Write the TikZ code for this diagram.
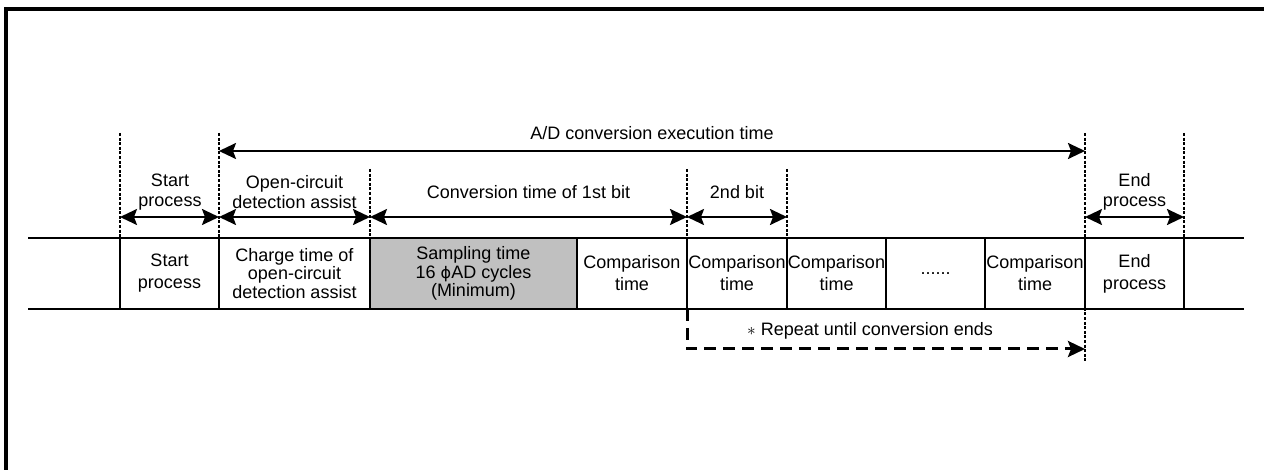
\documentclass[tikz,border=0pt]{standalone}
\usepackage{fontspec}
\setmainfont{Liberation Sans}
\newfontfamily\dejavu{DejaVu Sans}
\usetikzlibrary{arrows.meta}
\definecolor{sampgray}{RGB}{192,192,192}
\begin{document}
\begin{tikzpicture}[x=1pt,y=-1pt,
  box/.style={draw,line width=2.5pt,minimum height=71pt,inner sep=0pt,align=center,font=\fontsize{18}{22}\selectfont},
  box3/.style={box,font=\fontsize{18}{18.5}\selectfont},
  lbl/.style={inner sep=0pt,align=center,font=\fontsize{18}{20}\selectfont},
  dotl/.style={line width=2.5pt,dash pattern=on 3pt off 1.6pt},
  band/.style={line width=2.5pt},
  frame/.style={line width=3.5pt},
  tip/.style={},
  dim/.style={line width=2.2pt,{Stealth[length=17pt,width=16pt,inset=3pt]}-{Stealth[length=17pt,width=16pt,inset=3pt]}},
  rep/.style={line width=3pt,dash pattern=on 12pt off 7pt,-{Stealth[length=17pt,width=16pt,inset=3pt]}}]
\useasboundingbox (0,0) rectangle (1264,470);
% frame
\coordinate (fbl) at (6,470);
\coordinate (ftl) at (6,9);
\coordinate (ftr) at (1264,9);
\draw[frame] (fbl) -- (ftl) -- (ftr);
% band lines
\coordinate (tl) at (28,238);
\coordinate (tr) at (1244,238);
\coordinate (bl) at (28,309);
\coordinate (br) at (1244,309);
\draw[band] (tl) -- (tr);
\draw[band] (bl) -- (br);
% boxes
\node[box,minimum width=99pt] (b1) at (169.5,273.5) {Start\\process};
\node[box3,minimum width=151pt] (b2) at (294.5,273.5) {Charge time of\\open-circuit\\detection assist};
\node[box3,minimum width=207pt,fill=sampgray] (b3) at (473.5,273.5) {Sampling time\\16 {\dejavu\fontsize{16}{18}\selectfont ϕ}AD cycles\\(Minimum)};
\node[box,minimum width=110pt] (b4) at (632,273.5) {Comparison\\time};
\node[box,minimum width=100pt] (b5) at (737,273.5) {Comparison\\time};
\node[box,minimum width=99pt] (b6) at (836.5,273.5) {Comparison\\time};
\node[box,minimum width=99pt] (b7) at (935.5,273.5) {......};
\node[box,minimum width=100pt] (b8) at (1035,273.5) {Comparison\\time};
\node[box,minimum width=99pt] (b9) at (1134.5,273.5) {End\\process};
% dotted guide lines
\coordinate (d1t) at (120,133); \coordinate (d1b) at (120,238);
\coordinate (d2t) at (219,133); \coordinate (d2b) at (219,238);
\coordinate (d3t) at (370,169); \coordinate (d3b) at (370,238);
\coordinate (d4t) at (687,169); \coordinate (d4b) at (687,238);
\coordinate (d5t) at (787,169); \coordinate (d5b) at (787,238);
\coordinate (d6t) at (1085,133); \coordinate (d6b) at (1085,361);
\coordinate (d7t) at (1184,133); \coordinate (d7b) at (1184,246);
\foreach \i in {1,...,7} {\draw[dotl] (d\i t) -- (d\i b);}
% dimension arrows
\coordinate (a1) at (219,151); \coordinate (a2) at (1085,151);
\draw[dim] (a1) -- (a2);
\node[lbl] (tAD) at (652,133) {A/D conversion execution time};
\coordinate (r1) at (120,217); \coordinate (r2) at (219,217);
\coordinate (r3) at (370,217); \coordinate (r4) at (687,217);
\coordinate (r5) at (787,217); \coordinate (r6) at (1085,217);
\coordinate (r7) at (1184,217);
\draw[dim] (r1) -- (r2);
\draw[dim] (r2) -- (r3);
\draw[dim] (r3) -- (r4);
\draw[dim] (r4) -- (r5);
\draw[dim] (r6) -- (r7);
\node[lbl] (tS) at (170,192) {Start\\process};
\node[lbl] (tO) at (294.5,192) {Open-circuit\\detection assist};
\node[lbl] (tC) at (528.5,192) {Conversion time of 1st bit};
\node[lbl] (t2) at (737,192) {2nd bit};
\node[lbl] (tE) at (1134.5,192) {End\\process};
% repeat arrow
\coordinate (q1) at (687,309);
\coordinate (q2) at (687,349);
\coordinate (q3) at (1085,349);
\draw[rep] (q1) -- (q2) -- (q3);
\node[lbl] (tR) at (870,331) {$\ast$ Repeat until conversion ends};
\end{tikzpicture}
\end{document}
